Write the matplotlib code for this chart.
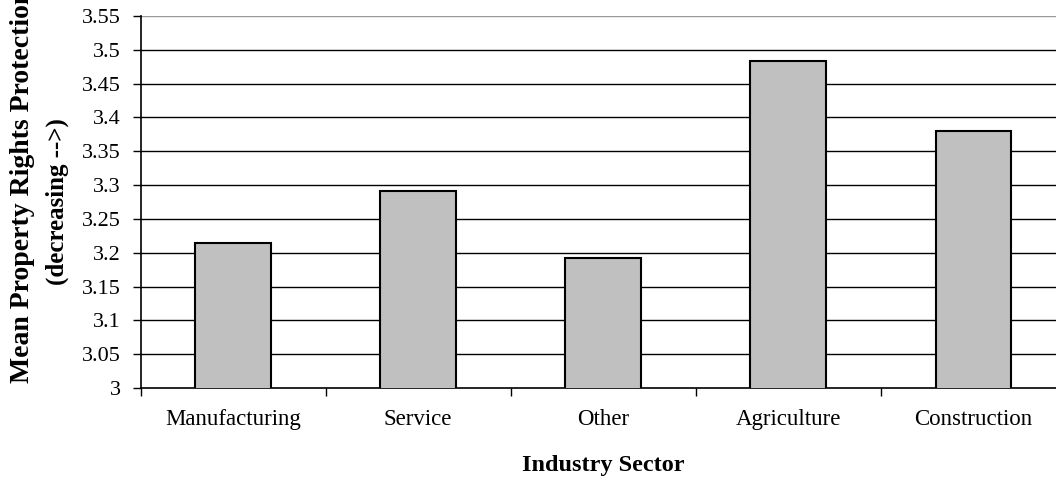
import matplotlib
matplotlib.use("Agg")
import matplotlib.pyplot as plt
import numpy as np

sectors = ["Manufacturing", "Service", "Other", "Agriculture", "Construction"]
mean_protection = [3.215, 3.292, 3.192, 3.484, 3.380]
y_ticks = [3.0, 3.05, 3.1, 3.15, 3.2, 3.25, 3.3, 3.35, 3.4, 3.45, 3.5, 3.55]
y_tick_labels = ["3", "3.05", "3.1", "3.15", "3.2", "3.25", "3.3", "3.35", "3.4", "3.45", "3.5", "3.55"]

plt.rcParams["font.family"] = ["Liberation Serif", "DejaVu Serif"]

W, H = 1056, 484
fig = plt.figure(figsize=(W / 100, H / 100), dpi=100)
fig.patch.set_facecolor("white")

# plot area in pixel terms (right edge runs slightly past the canvas)
left, right, top, bottom = 140.5, 1066, 16, 388
ax = fig.add_axes([left / W, 1 - bottom / H, (right - left) / W, (bottom - top) / H])

x = np.arange(len(sectors))
ax.bar(x, mean_protection, width=0.41, color="#c0c0c0", edgecolor="black",
       linewidth=1.5, zorder=3)

ax.set_xlim(-0.5, len(sectors) - 0.5)
ax.set_ylim(3.0, 3.55)
ax.set_yticks(y_ticks)
ax.set_yticklabels(y_tick_labels)
ax.set_xticks(x)
ax.set_xticklabels(sectors)
ax.set_xticks(np.arange(len(sectors) + 1) - 0.5, minor=True)

for yv in y_ticks[1:]:
    ax.axhline(yv, color="black" if yv < 3.55 else "#999999", linewidth=1.0, zorder=1)

for side in ("top", "right"):
    ax.spines[side].set_visible(False)
ax.spines["left"].set_linewidth(1.2)
ax.spines["bottom"].set_linewidth(1.2)
ax.spines["left"].set_zorder(4)

ax.tick_params(axis="y", direction="out", length=6, width=1, labelsize=16, pad=8)
ax.tick_params(axis="x", which="major", length=0, labelsize=16.5, pad=15)
ax.tick_params(axis="x", which="minor", direction="out", length=6, width=1)

fig.text(603 / W, 1 - 465 / H, "Industry Sector", ha="center", va="center",
         fontsize=17.5, fontweight="bold")

fig.text(23 / W, 1 - 383 / H, "Mean Property Rights Protection", rotation=90,
         ha="center", va="bottom", fontsize=20, fontweight="bold")
fig.text(57 / W, 1 - 202 / H, "(decreasing -->)", rotation=90,
         ha="center", va="center", fontsize=18, fontweight="bold")

fig.savefig("out.png", dpi=100, facecolor="white")
